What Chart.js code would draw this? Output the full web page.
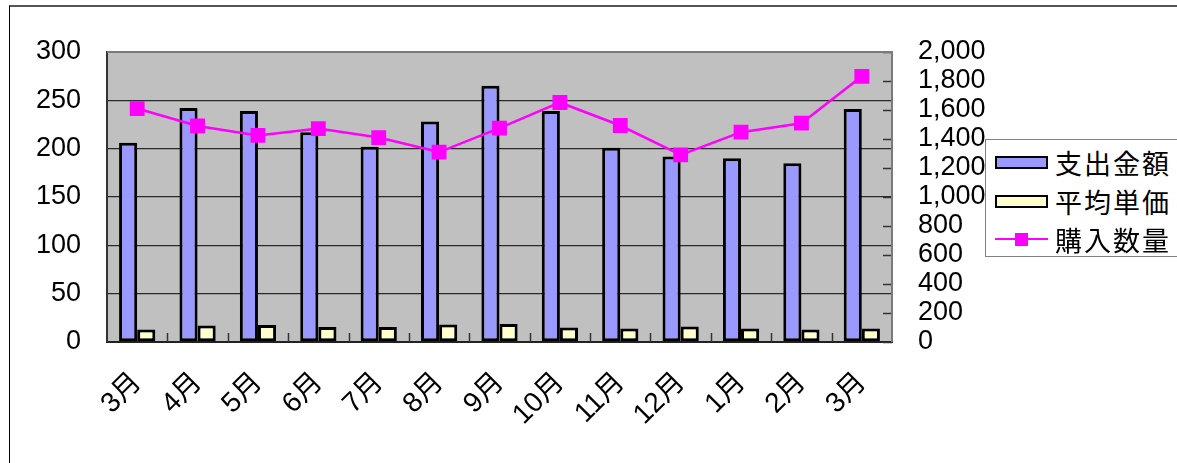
<!DOCTYPE html>
<html>
<head>
<meta charset="utf-8">
<script src="https://cdn.jsdelivr.net/npm/chart.js@4.4.0/dist/chart.umd.min.js"></script>
<style>
    body { margin:0; width:1177px; height:463px; overflow:hidden; background:#fff; position:relative; }
    #frame { position:absolute; left:9px; top:5px; width:1200px; height:500px; border-left:1px solid #000; border-top:2px solid #555; }
    canvas { position:absolute; left:0; top:0; }
    .legend { position:absolute; left:985px; top:139px; width:210px; height:116px; border:1px solid #808080; background:#fff;
              font-family:'Noto Sans CJK JP', sans-serif; font-size:27px; color:#000; }
    .legend .row { position:absolute; left:9px; height:38px; display:flex; align-items:center; letter-spacing:2px; white-space:nowrap; }
    .legend .box { width:49px; height:9px; border:2px solid #000; margin-right:7px; }
    .legend .ln { position:relative; width:53px; height:13px; margin-right:7px; }
    .legend .ln i { position:absolute; left:0; top:5px; width:53px; height:2px; background:#f0f; }
    .legend .ln b { position:absolute; left:20px; top:0; width:13px; height:13px; background:#f0f; }
</style>
</head>
<body>
<div id="frame"></div>
<canvas id="chart" width="1177" height="463"></canvas>
<div class="legend" id="legend"></div>

<script>
    const months = ['3月','4月','5月','6月','7月','8月','9月','10月','11月','12月','1月','2月','3月'];
    // 支出金額 (left axis)
    const spending = [206, 242, 239, 217, 202, 228, 265, 239, 201, 192, 190, 185, 241];
    // 平均単価 (left axis)
    const unitPrice = [13, 17, 17.5, 15.5, 15.5, 18, 18.5, 15, 14, 16, 14, 13, 14];
    // 購入数量 (right axis)
    const quantity = [1610, 1490, 1425, 1472, 1410, 1310, 1475, 1652, 1493, 1290, 1447, 1509, 1832];

    const seriesNames = ['支出金額', '平均単価', '購入数量'];
    const seriesColors = ['#9999ff', '#ffffcc', '#ff00ff'];

    const fontFamily = "'Liberation Sans', 'Noto Sans CJK JP', sans-serif";
    Chart.defaults.font.family = fontFamily;
    Chart.defaults.color = '#000';

    // grey plot area, frame and Excel style inside tick marks
    const plotFrame = {
        id: 'plotFrame',
        beforeDraw(chart) {
            const ctx = chart.ctx, a = chart.chartArea;
            ctx.save();
            ctx.fillStyle = '#c0c0c0';
            ctx.fillRect(a.left, a.top, a.right - a.left, a.bottom - a.top);
            ctx.restore();
        },
        afterDraw(chart) {
            const ctx = chart.ctx, a = chart.chartArea;
            const x = chart.scales.x, y1 = chart.scales.y1;
            ctx.save();
            ctx.strokeStyle = '#333';
            ctx.lineWidth = 1.5;
            ctx.beginPath();
            for (let i = 0; i < months.length - 1; i++) {
                const px = Math.round(x.getPixelForValue(i + 0.5)) + 0.5;
                ctx.moveTo(px, a.bottom);
                ctx.lineTo(px, a.bottom - 9);
            }
            y1.ticks.forEach(t => {
                const py = Math.round(y1.getPixelForValue(t.value)) + 0.5;
                ctx.moveTo(a.right, py);
                ctx.lineTo(a.right - 9, py);
            });
            ctx.stroke();
            ctx.strokeStyle = '#7a7a7a';
            ctx.lineWidth = 2;
            ctx.beginPath();
            ctx.moveTo(a.left, a.top);
            ctx.lineTo(a.right, a.top);
            ctx.lineTo(a.right, a.bottom);
            ctx.stroke();
            ctx.restore();
        }
    };

    const ctx = document.getElementById('chart').getContext('2d');
    const chart = new Chart(ctx, {
        type: 'bar',
        data: {
            labels: months,
            datasets: [{
                label: seriesNames[0],
                data: spending,
                backgroundColor: seriesColors[0],
                borderColor: '#000',
                borderWidth: 3,
                borderSkipped: false,
                yAxisID: 'y',
                order: 1
            }, {
                label: seriesNames[1],
                data: unitPrice,
                backgroundColor: seriesColors[1],
                borderColor: '#000',
                borderWidth: 3,
                borderSkipped: false,
                yAxisID: 'y',
                order: 1
            }, {
                type: 'line',
                label: seriesNames[2],
                data: quantity,
                borderColor: seriesColors[2],
                backgroundColor: seriesColors[2],
                borderWidth: 2.5,
                pointStyle: 'rect',
                pointRadius: 10.5,
                pointBorderWidth: 0,
                pointBackgroundColor: seriesColors[2],
                tension: 0,
                yAxisID: 'y1',
                order: 0
            }]
        },
        options: {
            responsive: false,
            maintainAspectRatio: false,
            animation: false,
            layout: { padding: { left: 10, right: 185, top: 52, bottom: 21 } },
            datasets: { bar: { categoryPercentage: 0.6, barPercentage: 1.0 } },
            plugins: { legend: { display: false }, tooltip: { enabled: false } },
            scales: {
                x: {
                    grid: { display: false },
                    border: { color: '#222', width: 2 },
                    ticks: { autoSkip: false, maxRotation: 45, minRotation: 45, padding: 16, font: { size: 28 } },
                    afterFit(s) { s.height = 100; }
                },
                y: {
                    position: 'left',
                    min: 0, max: 300,
                    grid: { color: '#2a2a2a', lineWidth: 1.3, drawTicks: false },
                    border: { color: '#333', width: 2 },
                    ticks: { stepSize: 50, padding: 26, font: { size: 27 } },
                    afterFit(s) { s.width = 97; }
                },
                y1: {
                    position: 'right',
                    min: 0, max: 2000,
                    grid: { display: false, drawTicks: false },
                    border: { display: false },
                    ticks: { stepSize: 200, autoSkip: false, padding: 26, font: { size: 27 },
                             callback: v => v.toLocaleString('en-US') },
                    afterFit(s) { s.width = 100; }
                }
            }
        },
        plugins: [plotFrame]
    });

    // legend drawn as html next to the plot
    const legendRows = [22, 61, 99];
    const legend = document.getElementById('legend');
    seriesNames.forEach((name, i) => {
        const row = document.createElement('div');
        row.className = 'row';
        row.style.top = (legendRows[i] - 19) + 'px';
        if (i < 2) {
            row.innerHTML = '<div class="box" style="background:' + seriesColors[i] + '"></div><span>' + name + '</span>';
        } else {
            row.innerHTML = '<div class="ln"><i></i><b></b></div><span>' + name + '</span>';
        }
        legend.appendChild(row);
    });
</script>
</body>
</html>
